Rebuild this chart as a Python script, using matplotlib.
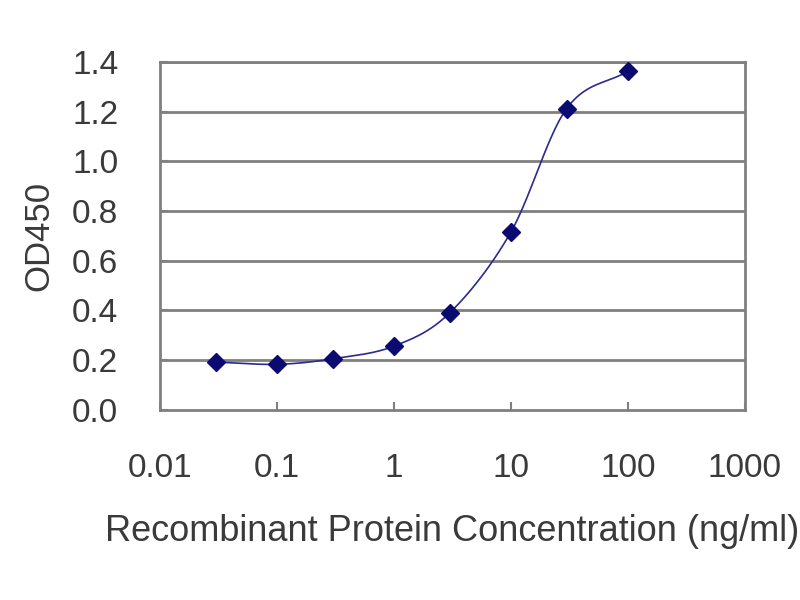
import numpy as np
import matplotlib
matplotlib.use("Agg")
import matplotlib.pyplot as plt

# concentration (ng/ml) and OD450
conc = [0.03, 0.1, 0.3, 1, 3, 10, 30, 100]
od450 = [0.192, 0.183, 0.205, 0.256, 0.39, 0.715, 1.212, 1.362]
xticks = [0.01, 0.1, 1, 10, 100, 1000]
xticklabels = ["0.01", "0.1", "1", "10", "100", "1000"]
yticks = [0.0, 0.2, 0.4, 0.6, 0.8, 1.0, 1.2, 1.4]


def smooth(xs, ys, n=40):
    # catmull-rom in log-x space, like the smoothed line of a spreadsheet chart
    lx = np.log10(xs)
    y = np.asarray(ys, dtype=float)
    px = np.concatenate([[2 * lx[0] - lx[1]], lx, [2 * lx[-1] - lx[-2]]])
    py = np.concatenate([[2 * y[0] - y[1]], y, [2 * y[-1] - y[-2]]])
    outx, outy = [], []
    t = np.linspace(0, 1, n)
    for i in range(1, len(px) - 2):
        for p, out in ((px, outx), (py, outy)):
            p0, p1, p2, p3 = p[i - 1], p[i], p[i + 1], p[i + 2]
            out.extend(0.5 * ((2 * p1) + (-p0 + p2) * t
                              + (2 * p0 - 5 * p1 + 4 * p2 - p3) * t ** 2
                              + (-p0 + 3 * p1 - 3 * p2 + p3) * t ** 3))
    return 10 ** np.array(outx), np.array(outy)


plt.rcParams['font.family'] = ['Liberation Sans', 'DejaVu Sans']

fig = plt.figure(figsize=(8, 6), dpi=100)
ax = fig.add_axes([0.2, 0.317, 0.731, 0.58])

ax.set_xscale('log')
ax.set_xlim(0.01, 1000)
ax.set_ylim(0, 1.4)

for yv in yticks[1:]:
    ax.axhline(yv, color='#808080', lw=2, zorder=1)

sx, sy = smooth(conc, od450)
ax.plot(sx, sy, color='#2a2a90', lw=1.2, zorder=2)
ax.plot(conc, od450, ls='none', marker='D', ms=9, color='#0a0a70', zorder=3)

ax.set_xticks(xticks)
ax.set_xticklabels(xticklabels)
ax.xaxis.set_minor_locator(matplotlib.ticker.NullLocator())
ax.set_yticks(yticks)
ax.set_yticklabels(["%.1f" % v for v in yticks])
ax.tick_params(axis='both', direction='in', length=6, width=1.5, color='#808080',
               labelsize=24, labelcolor='#3a3a3a')
ax.tick_params(axis='x', pad=31)
ax.tick_params(axis='y', pad=30)

for s in ax.spines.values():
    s.set_color('#808080')
    s.set_linewidth(2)

ax.set_xlabel('Recombinant Protein Concentration (ng/ml)', fontsize=26,
              color='#3a3a3a', labelpad=22)
ax.set_ylabel('OD450', fontsize=25, color='#3a3a3a', labelpad=12)

fig.savefig('out.png', dpi=100)
